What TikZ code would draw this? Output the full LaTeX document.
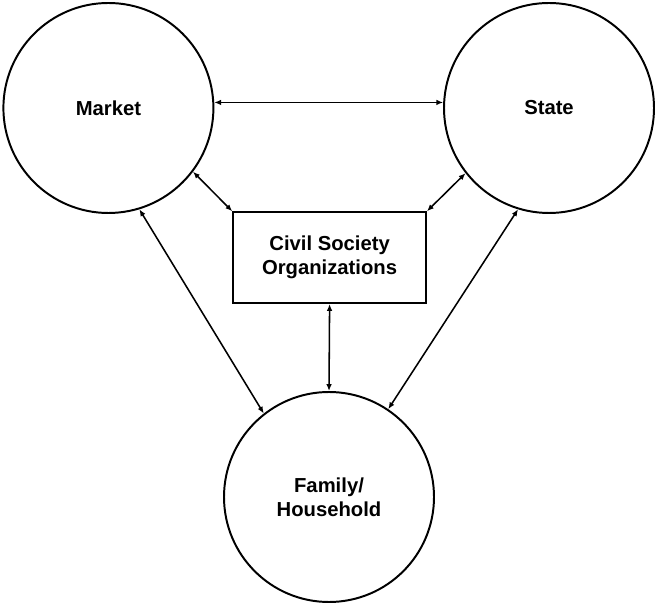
\documentclass[tikz,border=0pt]{standalone}
\usepackage{fontspec}
\setmainfont{Liberation Sans}
\usepackage{tikz}
\usetikzlibrary{arrows.meta, positioning}

\begin{document}
\begin{tikzpicture}[
    sector/.style={draw, line width=1.4pt, circle, minimum size=5.25cm, inner sep=0pt, font=\fontsize{14.4}{17}\selectfont\bfseries, align=center},
    cso/.style={draw, line width=1.4pt, minimum width=4.82cm, minimum height=2.27cm, inner sep=0pt, font=\fontsize{14.4}{17}\selectfont\bfseries, align=center},
    arrow/.style={{Latex[length=1.7mm,width=1.4mm]}-{Latex[length=1.7mm,width=1.4mm]}, line width=1.1pt}
]
    \useasboundingbox (0,0) rectangle (16.375,15.1);

    % Sectors
    \node[sector] (market) at (2.71,12.4) {Market};
    \node[sector] (state) at (13.725,12.4) {State};
    \node[sector] (family) at (8.225,2.675) {Family/\\Household};

    % Civil society
    \node[cso] (civil) at (8.24,8.66) {Civil Society\\Organizations};

    % Connections between sectors
    \draw[arrow] (market.3) -- (state.177);
    \draw[arrow] (market.-73) -- (family.128);
    \draw[arrow] (state.-107) -- (family.56);

    % Connections to civil society
    \draw[arrow] (civil.north west) -- (market.-37);
    \draw[arrow] (civil.north east) -- (state.218);
    \draw[arrow] (civil.south) -- (family.north);
\end{tikzpicture}
\end{document}
